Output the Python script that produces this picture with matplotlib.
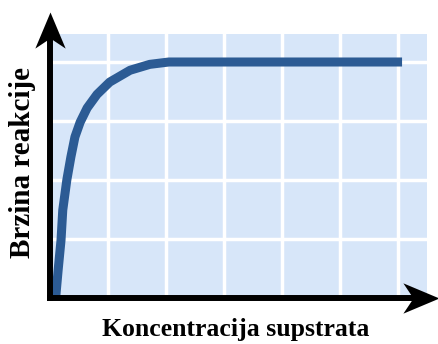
import matplotlib.pyplot as plt
from matplotlib.path import Path
from matplotlib.transforms import Affine2D

# Podaci: krivulja brzine reakcije (jedinice = kvadrati mreže)
konc = [0.10, 0.14, 0.19, 0.22, 0.29, 0.36, 0.43, 0.52, 0.64, 0.81,
        1.03, 1.38, 1.72, 2.05, 6.07]
brzina = [0.03, 0.47, 0.98, 1.49, 2.00, 2.39, 2.73, 2.98, 3.22, 3.45,
          3.66, 3.86, 3.96, 4.0, 4.0]
mreza_x = [1, 2, 3, 4, 5, 6]
mreza_y = [1, 2, 3, 4]

fig = plt.figure(figsize=(4.39, 3.44), dpi=100)
ax = fig.add_axes([0, 0, 1, 1])
# 1 kvadrat = 58 px vodoravno, 59 px okomito; ishodište na (50, 298) px
ax.set_xlim(-50 / 58, (439 - 50) / 58)
ax.set_ylim(-(344 - 298) / 59, 298 / 59)
ax.axis('off')

# svijetloplava pozadina s bijelom mrežom
ax.fill_between([0, 6.5], 0, 4.47, color='#d7e6f9', lw=0, zorder=1)
for gx in mreza_x:
    ax.plot([gx, gx], [0, 4.47], color='white', lw=2.5, zorder=2)
for gy in mreza_y:
    ax.plot([0, 6.5], [gy, gy], color='white', lw=2.5, zorder=2)

# krivulja
ax.plot(konc, brzina, color='#2c5b94', lw=6.5, solid_capstyle='butt',
        solid_joinstyle='round', zorder=3)

# osi sa strelicama
vrh = Path([(0, 0), (-0.42, -1), (0, -0.72), (0.42, -1), (0, 0)],
           [Path.MOVETO, Path.LINETO, Path.LINETO, Path.LINETO, Path.CLOSEPOLY])
ax.plot([0, 0], [-0.05, 4.4], color='black', lw=4.3, solid_capstyle='butt', zorder=4)
ax.plot([-0.05, 6.3], [0, 0], color='black', lw=4.3, solid_capstyle='butt', zorder=4)
ax.plot(0, 4.85, marker=vrh, markersize=52, color='black', mew=0, zorder=5)
ax.plot(6.71, 0, marker=vrh.transformed(Affine2D().rotate_deg(-90)),
        markersize=52, color='black', mew=0, zorder=5)

font = dict(family='Liberation Serif', fontweight='bold')
ax.text(3.21, -0.54, 'Koncentracija supstrata', ha='center', va='center',
        fontsize=18.5, **font)
ax.text(-0.47, 2.29, 'Brzina reakcije', ha='center', va='center', rotation=90,
        fontsize=21, **font)

plt.savefig('out.png', dpi=100)
